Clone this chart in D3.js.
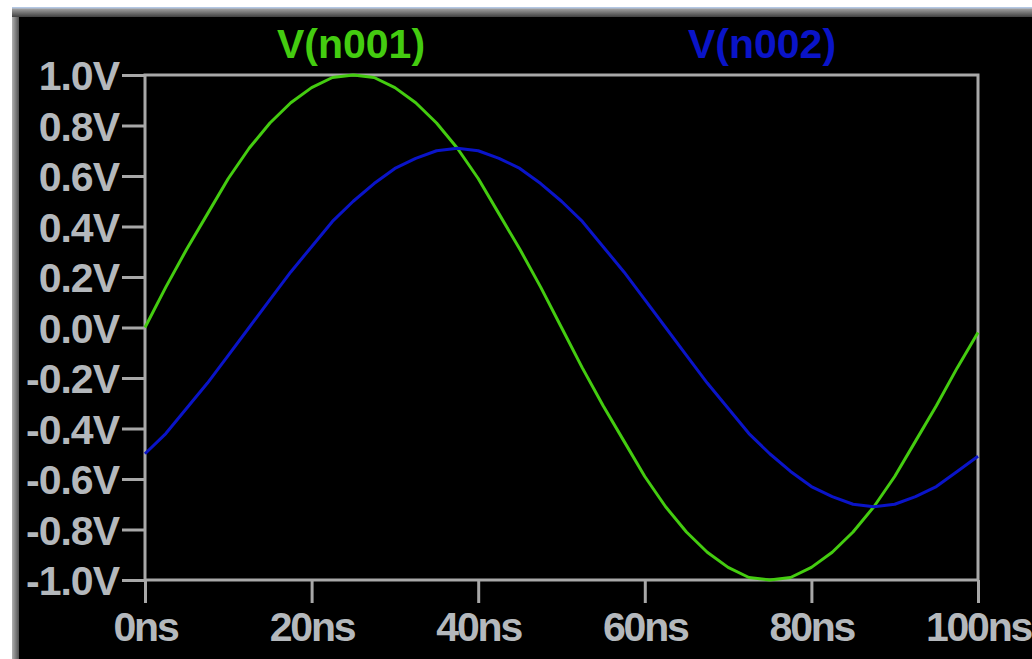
<!DOCTYPE html>
<html>
<head>
<meta charset="utf-8">
<script src="https://cdn.jsdelivr.net/npm/d3@7"></script>
<style>
  html, body { margin: 0; padding: 0; background: #fff; }
  svg { display: block; }
</style>
</head>
<body>
<script>
// time axis, ns (every 2.5ns)
const times = d3.range(0, 100.01, 2.5);
// V(n001)
const n001 = [0.00, 0.16, 0.31, 0.45, 0.59, 0.71, 0.81, 0.89, 0.95, 0.99,
              1.00, 0.99, 0.95, 0.89, 0.81, 0.71, 0.59, 0.45, 0.31, 0.16,
              0.00, -0.16, -0.31, -0.45, -0.59, -0.71, -0.81, -0.89, -0.95, -0.99,
              -1.00, -0.99, -0.95, -0.89, -0.81, -0.71, -0.59, -0.45, -0.31, -0.16, -0.02];
// V(n002)
const n002 = [-0.50, -0.42, -0.32, -0.22, -0.11, 0.00, 0.11, 0.22, 0.32, 0.42,
              0.50, 0.57, 0.63, 0.67, 0.70, 0.71, 0.70, 0.67, 0.63, 0.57,
              0.50, 0.42, 0.32, 0.22, 0.11, 0.00, -0.11, -0.22, -0.32, -0.42,
              -0.50, -0.57, -0.63, -0.67, -0.70, -0.71, -0.70, -0.67, -0.63, -0.57, -0.51];
const yTicks = [1.0, 0.8, 0.6, 0.4, 0.2, 0.0, -0.2, -0.4, -0.6, -0.8, -1.0];
const xTicks = [0, 20, 40, 60, 80, 100];
const seriesNames = ['V(n001)', 'V(n002)'];
const seriesColors = ['#44cc10', '#0a14c8'];

const width = 1032, height = 659;
const margin = {top: 75, right: 54, bottom: 79, left: 145};
const gray = '#a8a8a8';
const labelColor = '#b4b8bc';
const fontSize = 41;

const svg = d3.select('body').append('svg')
  .attr('width', width)
  .attr('height', height);

// window frame: white edge, light blue line, gray gradient, black panel
const defs = svg.append('defs');
const gTop = defs.append('linearGradient').attr('id', 'gtop').attr('x1', 0).attr('y1', 0).attr('x2', 0).attr('y2', 1);
gTop.append('stop').attr('offset', '0%').attr('stop-color', '#a8a8a8');
gTop.append('stop').attr('offset', '100%').attr('stop-color', '#404040');
const gLeft = defs.append('linearGradient').attr('id', 'gleft').attr('x1', 0).attr('y1', 0).attr('x2', 1).attr('y2', 0);
gLeft.append('stop').attr('offset', '0%').attr('stop-color', '#b0b0b0');
gLeft.append('stop').attr('offset', '100%').attr('stop-color', '#505050');

svg.append('rect').attr('x', 12).attr('y', 7).attr('width', width - 12).attr('height', height - 7).attr('fill', '#000');
svg.append('rect').attr('x', 12).attr('y', 8).attr('width', 7).attr('height', height - 8).attr('fill', 'url(#gleft)');
svg.append('rect').attr('x', 12).attr('y', 8).attr('width', width - 12).attr('height', 9).attr('fill', 'url(#gtop)');
svg.append('rect').attr('x', 12).attr('y', 7).attr('width', width - 12).attr('height', 1.5).attr('fill', '#b4c8e4');

const x = d3.scaleLinear().domain([0, 100]).range([margin.left, width - margin.right]);
const y = d3.scaleLinear().domain([-1, 1]).range([height - margin.bottom, margin.top]);

// y axis
const yAxis = svg.append('g')
  .attr('transform', `translate(${margin.left},0)`)
  .call(d3.axisLeft(y).tickValues(yTicks).tickSize(23).tickPadding(3)
    .tickFormat(d => d3.format('.1f')(d).replace('\u2212', '-') + 'V'));
// x axis
const xAxis = svg.append('g')
  .attr('transform', `translate(0,${height - margin.bottom})`)
  .call(d3.axisBottom(x).tickValues(xTicks).tickSize(23).tickPadding(8)
    .tickFormat(d => d + 'ns'));

[yAxis, xAxis].forEach(ax => {
  ax.select('.domain').remove();
  ax.selectAll('line').attr('stroke', gray).attr('stroke-width', 3);
  ax.selectAll('text')
    .attr('fill', labelColor)
    .attr('font-family', 'Liberation Sans, Arial, sans-serif')
    .attr('font-weight', 'bold')
    .attr('font-size', fontSize)
    .attr('letter-spacing', -1);
});
yAxis.selectAll('text').attr('dy', '0.36em');
xAxis.selectAll('text').attr('dy', '0.74em').attr('letter-spacing', -2.2);

// plot frame
svg.append('rect')
  .attr('x', margin.left)
  .attr('y', margin.top)
  .attr('width', width - margin.left - margin.right)
  .attr('height', height - margin.top - margin.bottom)
  .attr('fill', 'none')
  .attr('stroke', gray)
  .attr('stroke-width', 3);

// traces
const line = d3.line().x(d => x(d[0])).y(d => y(d[1]));
[n001, n002].forEach((vals, i) => {
  svg.append('path')
    .datum(times.map((t, j) => [t, vals[j]]))
    .attr('d', line)
    .attr('fill', 'none')
    .attr('stroke', seriesColors[i])
    .attr('stroke-width', 3)
    .attr('stroke-linejoin', 'round');
});

// trace names on top
const titleX = [351, 762];
svg.selectAll('.title')
  .data(seriesNames)
  .join('text')
  .attr('class', 'title')
  .attr('x', (d, i) => titleX[i])
  .attr('y', 58)
  .attr('text-anchor', 'middle')
  .attr('fill', (d, i) => seriesColors[i])
  .attr('font-family', 'Liberation Sans, Arial, sans-serif')
  .attr('font-weight', 'bold')
  .attr('font-size', fontSize)
  .text(d => d);
</script>
</body>
</html>
